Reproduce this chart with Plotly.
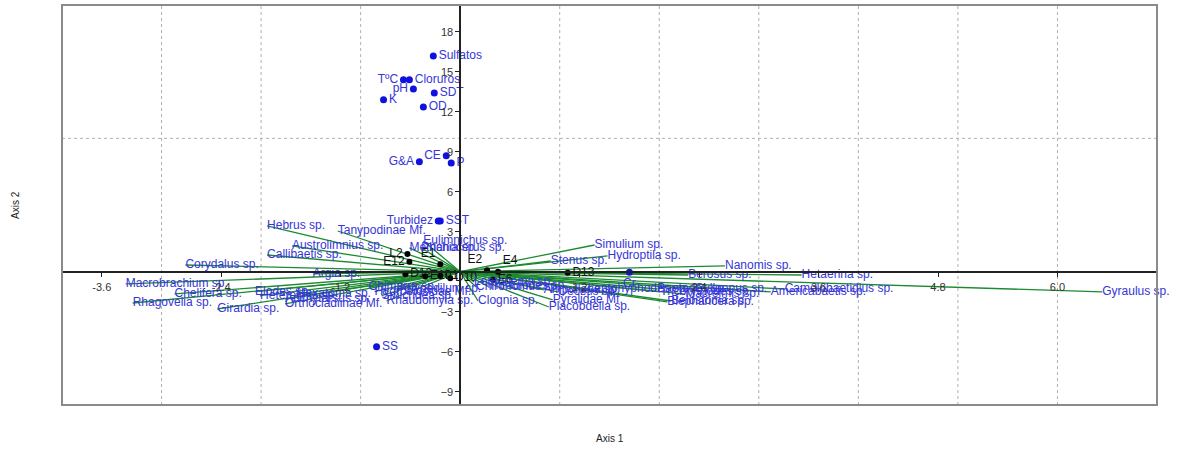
import plotly.graph_objects as go

# ---------------- data ----------------
SPECIES = ["Hebrus sp.", "Tanypodinae Mf.", "Austrolimnius sp.", "Callibaetis sp.", "Corydalus sp.",
           "Macrobrachium sp.", "Chelifera sp.", "Rhagovelia sp.", "Girardia sp.", "Argia sp.",
           "Elodes sp.", "Heterelmis sp.", "Anchytarsus sp.", "Orthocladiinae Mf.", "Hexatoma sp.",
           "Chimarra sp.", "Hydrobiosidae Mf.", "Smicridea sp.", "Polypedilum sp.", "Rhaudomyia sp.",
           "Clognia sp.", "Eulimnichus sp.", "Metrichia sp.", "Phanocerus sp.", "Simulium sp.",
           "Hydroptila sp.", "Stenus sp.", "Nanomis sp.", "Berosus sp.", "Hetaerina sp.",
           "Gyraulus sp.", "Camelobaetidius sp.", "Americabaetis sp.", "Cylloepus sp.", "Baetodes sp.",
           "Tricorythodes sp.", "Macrelmis sp.", "Blepharicera sp.", "Belostoma sp.", "Leptohyphodes sp.",
           "Ampullaria sp.", "Oecetis sp.", "Pyralidae Mf.", "Placobdella sp.", "Leptonema sp.",
           "Chironomus sp.", "Thraulodes sp."]
SP_X = [-1.94, -1.23, -1.69, -1.94, -2.76,
        -3.36, -2.87, -3.29, -2.44, -1.48,
        -2.06, -2.01, -1.76, -1.76, -1.64,
        -0.92, -0.86, -0.79, -0.64, -0.74,
        0.18, -0.37, -0.51, -0.39, 1.35,
        1.48, 0.91, 2.66, 2.29, 3.43,
        6.45, 3.26, 3.12, 2.36, 1.98,
        2.01, 2.26, 2.08, 2.12, 1.28,
        0.84, 0.98, 0.93, 0.89, 0.14,
        0.16, 0.28]
SP_Y = [3.43, 3.05, 1.93, 1.25, 0.50,
        -0.92, -1.67, -2.35, -2.80, -0.17,
        -1.50, -1.80, -2.05, -2.42, -1.68,
        -1.15, -1.50, -1.80, -1.30, -2.20,
        -2.20, 2.30, 1.78, 1.78, 2.00,
        1.18, 0.80, 0.43, -0.25, -0.25,
        -1.52, -1.30, -1.52, -1.30, -1.30,
        -1.52, -1.68, -2.27, -2.20, -1.30,
        -1.37, -1.52, -2.12, -2.65, -0.77,
        -1.15, -1.10]

ENV = ["Sulfatos", "TºC", "Cloruros", "pH", "SDT", "K", "OD", "CE", "P", "G&A",
       "Turbidez", "SST", "SS", "Cr"]
ENV_X = [-0.27, -0.57, -0.51, -0.47, -0.26, -0.77, -0.37, -0.14, -0.09, -0.41,
         -0.22, -0.20, -0.84, 1.70]
ENV_Y = [16.18, 14.40, 14.40, 13.70, 13.40, 12.90, 12.35, 8.70, 8.15, 8.25,
         3.80, 3.80, -5.63, -0.05]

SITES = ["L2", "E12", "E1", "E2", "E4", "D13", "E6", "D12", "E10", "L1", "D10"]
SITE_X = [-0.53, -0.51, -0.20, 0.27, 0.38, 1.08, 0.33, -0.55, -0.35, -0.20, -0.10]
SITE_Y = [1.33, 0.75, 0.55, 0.10, 0.00, -0.08, -0.60, -0.20, -0.35, -0.30, -0.50]

X_TICKS = [-3.6, -2.4, -1.2, 1.2, 2.4, 3.6, 4.8, 6.0]
X_TICKTEXT = ["-3.6", "-2.4", "-1.2", "1.2", "2.4", "3.6", "4.8", "6.0"]
Y_TICKS = [-9, -6, -3, 3, 6, 9, 12, 15, 18]
GRID_X = [-3, -2, -1, 1, 2, 3, 4, 5, 6]
GRID_Y = [10]
X_RANGE = [-4, 7]
Y_RANGE = [-10, 20]

# ---------------- styles ----------------
ENV_POS = {"TºC": "middle left", "pH": "middle left", "CE": "middle left", "G&A": "middle left",
           "Turbidez": "middle left", "Cr": "bottom center"}
SITE_POS = {"L2": "middle left", "E12": "middle left", "E1": "top left", "E2": "top left",
            "E4": "top right"}
BLUE_TXT = "#3535d8"
GREEN = "#1c8a30"
FONT = "Liberation Sans, Arial, sans-serif"
LABEL_SIZE = 12

fig = go.Figure()

# species vectors
lx, ly = [], []
for x, y in zip(SP_X, SP_Y):
    lx += [0, x, None]
    ly += [0, y, None]
fig.add_trace(go.Scatter(x=lx, y=ly, mode="lines", line=dict(color=GREEN, width=1.3),
                         hoverinfo="skip", showlegend=False))

# sites
fig.add_trace(go.Scatter(x=SITE_X, y=SITE_Y, mode="markers+text", text=SITES,
                         textposition=[SITE_POS.get(s, "middle right") for s in SITES],
                         marker=dict(color="black", size=6),
                         textfont=dict(color="#111111", size=LABEL_SIZE, family=FONT),
                         cliponaxis=False, showlegend=False, hoverinfo="text"))

# environmental variables
fig.add_trace(go.Scatter(x=ENV_X, y=ENV_Y, mode="markers+text", text=ENV,
                         textposition=[ENV_POS.get(e, "middle right") for e in ENV],
                         marker=dict(color="#1010e0", size=7),
                         textfont=dict(color=BLUE_TXT, size=LABEL_SIZE, family=FONT),
                         cliponaxis=False, showlegend=False, hoverinfo="text"))

# species labels
fig.add_trace(go.Scatter(x=SP_X, y=SP_Y, mode="text", text=SPECIES, textposition="middle right",
                         textfont=dict(color=BLUE_TXT, size=LABEL_SIZE, family=FONT),
                         cliponaxis=False, showlegend=False, hoverinfo="text"))

shapes = []
for gx in GRID_X:
    shapes.append(dict(type="line", xref="x", yref="paper", x0=gx, x1=gx, y0=0, y1=1,
                       line=dict(color="#b0b0b0", width=1, dash="dot"), layer="below"))
for gy in GRID_Y:
    shapes.append(dict(type="line", xref="paper", yref="y", x0=0, x1=1, y0=gy, y1=gy,
                       line=dict(color="#b0b0b0", width=1, dash="dot"), layer="below"))
shapes.append(dict(type="rect", xref="paper", yref="paper", x0=0, x1=1, y0=0, y1=1,
                   line=dict(color="#8a8a8a", width=2), layer="above"))

x_pos = (0 - Y_RANGE[0]) / (Y_RANGE[1] - Y_RANGE[0])
y_pos = (0 - X_RANGE[0]) / (X_RANGE[1] - X_RANGE[0])

fig.update_layout(
    width=1177, height=451,
    margin=dict(l=62, r=20, t=5, b=46),
    paper_bgcolor="white", plot_bgcolor="white",
    font=dict(family=FONT, color="#222222"),
    shapes=shapes,
    xaxis=dict(range=X_RANGE, anchor="free", position=x_pos, showgrid=False, zeroline=False,
               showline=True, linecolor="#222222", linewidth=1.5,
               ticks="outside", ticklen=5, tickcolor="#222222",
               tickvals=X_TICKS, ticktext=X_TICKTEXT, tickfont=dict(size=11, color="#333333")),
    yaxis=dict(range=Y_RANGE, anchor="free", position=y_pos, showgrid=False, zeroline=False,
               showline=True, linecolor="#222222", linewidth=1.5,
               ticks="outside", ticklen=4, tickcolor="#222222",
               tickvals=Y_TICKS, tickfont=dict(size=11, color="#333333")),
    annotations=[
        dict(text="Axis 1", xref="paper", yref="paper", x=0.5, y=0, yshift=-33, showarrow=False,
             xanchor="center", yanchor="middle", font=dict(size=10, color="#222222")),
        dict(text="Axis 2", xref="paper", yref="paper", x=0, y=0.5, xshift=-47, showarrow=False,
             textangle=-90, xanchor="center", yanchor="middle", font=dict(size=10, color="#222222")),
    ],
)

fig.write_html("out.html", config={"displayModeBar": False},
               post_script="document.body.style.margin='0';")
